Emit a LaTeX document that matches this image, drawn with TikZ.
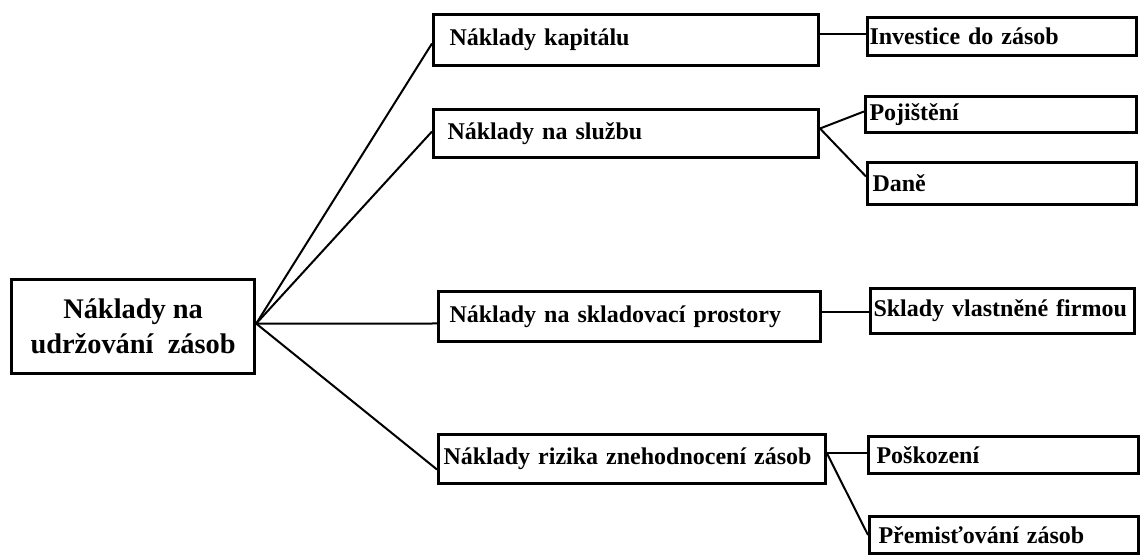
\documentclass[tikz,border=0pt]{standalone}
\usepackage{fontspec}
\setmainfont{Liberation Serif}
\tikzset{
  costbox/.style={rectangle,draw,line width=1.5pt,anchor=north west,
                  align=left,inner ysep=0pt,
                  font=\bfseries\fontsize{12}{14}\selectfont},
  link/.style={line width=1pt},
}

\begin{document}
\begin{tikzpicture}[
  x=0.5pt,y=-0.5pt,
  rootbox/.style={rectangle,draw,line width=1.6pt,anchor=north west,
                  minimum width=121.5pt,minimum height=47pt,inner sep=0pt,
                  align=center,font=\bfseries\fontsize{14.2}{17.5}\selectfont}
]
  \useasboundingbox (0,0) rectangle (1141,555);

  \node[rootbox] (upkeep) at (10,278) {Náklady na\\udržování\ \ zásob};

  \node[costbox,text width=176.5pt,inner xsep=8pt,minimum height=25.5pt]
    (capital) at (432,13) {Náklady kapitálu};
  \node[costbox,text width=178.5pt,inner xsep=7pt,minimum height=24pt]
    (service) at (432,108) {Náklady na službu};
  \node[costbox,text width=180pt,inner xsep=5.5pt,minimum height=25pt]
    (storage) at (437,290) {Náklady na skladovací prostory};
  \node[costbox,text width=188.5pt,inner xsep=2.5pt,minimum height=24.5pt]
    (risk) at (437,433) {Náklady rizika znehodnocení zásob};

  \node[costbox,text width=132.5pt,inner xsep=1pt,minimum height=19pt]
    (invest) at (866,16) {Investice do zásob};
  \node[costbox,text width=131.5pt,inner xsep=2pt,minimum height=18pt]
    (insure) at (864,95) {Pojištění};
  \node[costbox,text width=129.5pt,inner xsep=2.5pt,minimum height=21pt]
    (taxes) at (866,161) {Daně};
  \node[costbox,text width=129pt,inner xsep=1.5pt,minimum height=22.5pt]
    (owned) at (869,287) {Sklady vlastněné firmou};
  \node[costbox,text width=127pt,inner xsep=4pt,minimum height=18.5pt]
    (damage) at (867,435) {Poškození};
  \node[costbox,text width=125.5pt,inner xsep=4.5pt,minimum height=18.5pt]
    (moving) at (868,515) {Přemisťování zásob};

  \draw[link] ([yshift=1.5pt]upkeep.east) -- ([yshift=-1.75pt]capital.west);
  \draw[link] ([yshift=1.5pt]upkeep.east) -- ([yshift=1pt]service.west);
  \draw[link] ([yshift=1.5pt]upkeep.east) -- ([yshift=-3.5pt]storage.west);
  \draw[link] ([yshift=1.5pt]upkeep.east) -- ([yshift=-5.25pt]risk.west);

  \draw[link] ([yshift=2.75pt]capital.east) -- ([yshift=1pt]invest.west);
  \draw[link] ([yshift=2.5pt]service.east) -- ([yshift=1.5pt]insure.west);
  \draw[link] ([yshift=2.5pt]service.east) -- ([yshift=3.5pt]taxes.west);
  \draw[link] ([yshift=2pt]storage.east) -- ([yshift=-0.75pt]owned.west);
  \draw[link] ([yshift=2.75pt]risk.east) -- ([yshift=0.75pt]damage.west);
  \draw[link] ([yshift=2.75pt]risk.east) -- (moving.west);
\end{tikzpicture}
\end{document}
